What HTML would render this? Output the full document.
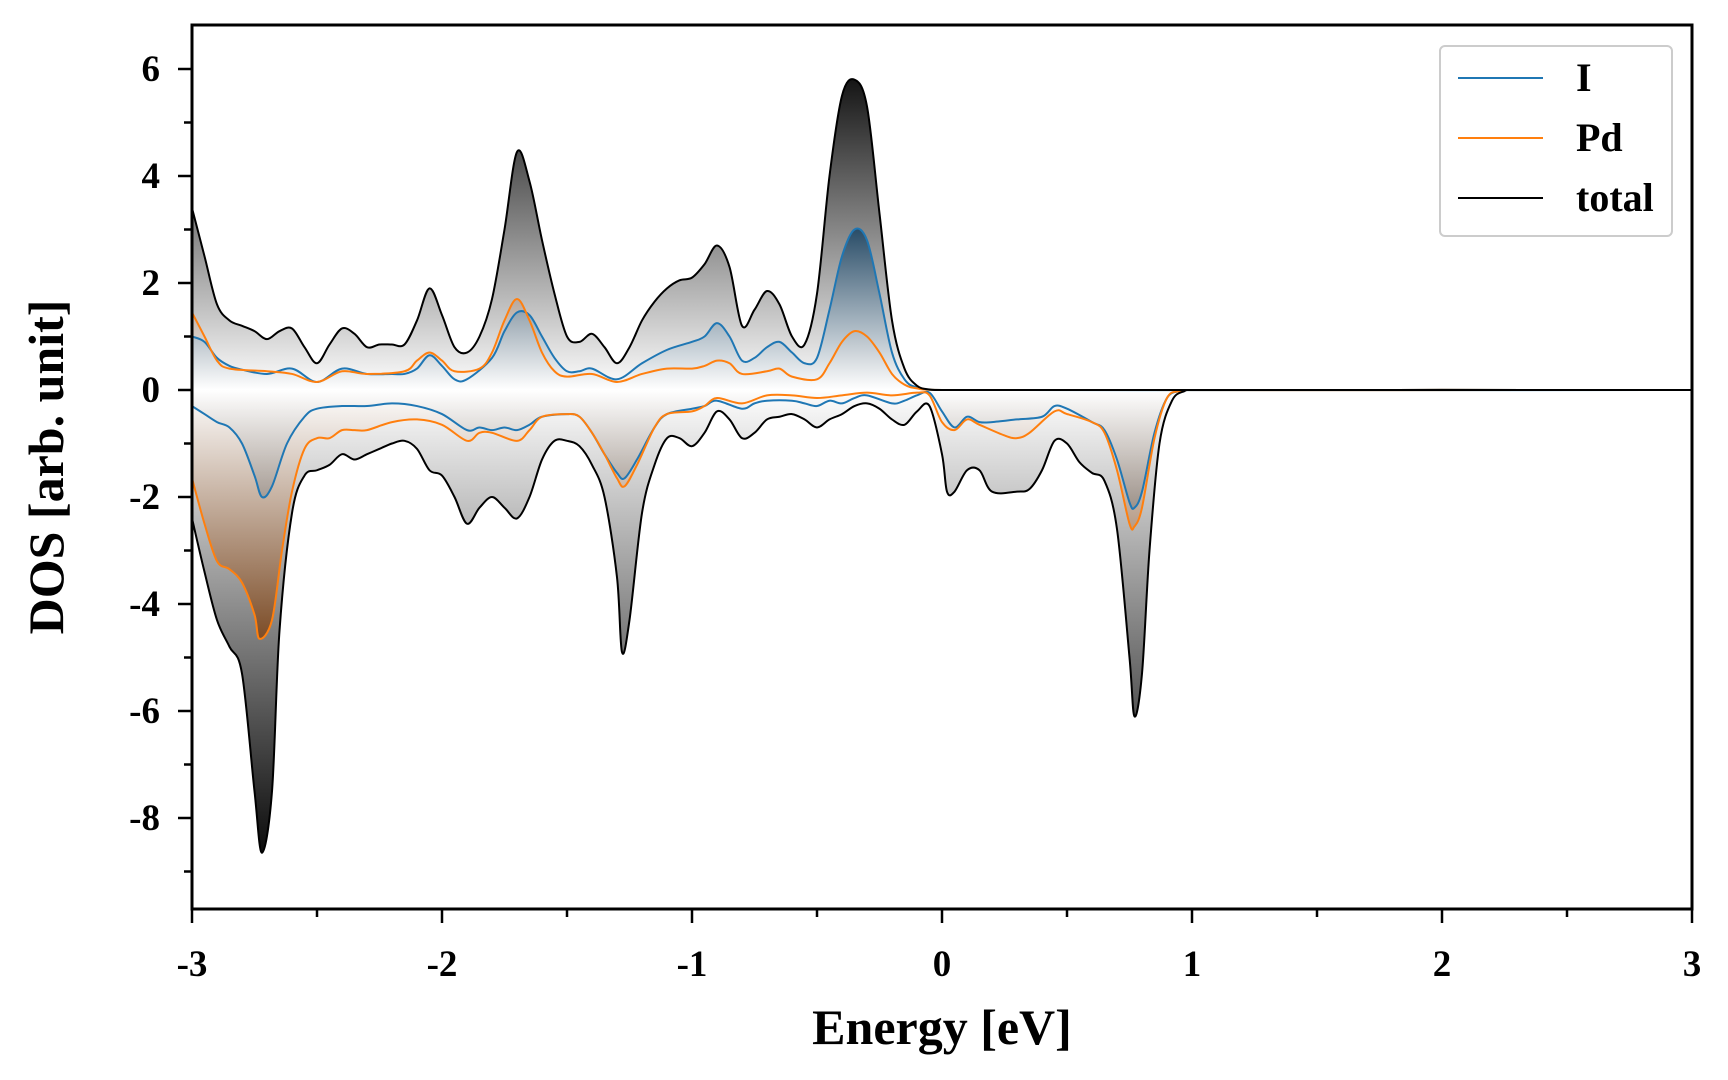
<!DOCTYPE html>
<html><head><meta charset="utf-8"><style>
html,body{margin:0;padding:0;background:#fff;}
svg{display:block;font-family:"Liberation Serif",serif;font-weight:bold;}
</style></head><body>
<svg id="chart" width="1728" height="1080" viewBox="0 0 1728 1080">
<defs id="defs"></defs>
<g id="plot"></g>
</svg>
<script>
// ---- data (Energy eV, DOS) ----
const totUpE=[-3,-2.95,-2.9,-2.85,-2.8,-2.75,-2.7,-2.65,-2.6,-2.55,-2.5,-2.45,-2.4,-2.35,-2.3,-2.25,-2.2,-2.15,-2.1,-2.05,-2,-1.95,-1.9,-1.85,-1.8,-1.75,-1.7,-1.65,-1.6,-1.55,-1.5,-1.45,-1.4,-1.35,-1.3,-1.25,-1.2,-1.15,-1.1,-1.05,-1,-0.95,-0.9,-0.85,-0.8,-0.75,-0.7,-0.65,-0.6,-0.55,-0.5,-0.45,-0.4,-0.35,-0.3,-0.25,-0.2,-0.15,-0.1,-0.05,0,3];
const totUpV=[3.4,2.5,1.6,1.3,1.2,1.1,0.95,1.1,1.15,0.8,0.5,0.85,1.15,1.05,0.8,0.85,0.85,0.85,1.3,1.9,1.4,0.8,0.7,1.0,1.7,3.0,4.45,3.9,2.8,1.8,1.0,0.9,1.05,0.8,0.5,0.8,1.3,1.65,1.9,2.05,2.1,2.35,2.7,2.3,1.2,1.5,1.85,1.6,1.0,0.85,1.8,4.0,5.5,5.8,5.3,3.3,1.3,0.4,0.08,0.01,0,0];
const totDnE=[-3,-2.95,-2.9,-2.85,-2.8,-2.75,-2.72,-2.68,-2.65,-2.6,-2.55,-2.5,-2.45,-2.4,-2.35,-2.3,-2.25,-2.2,-2.15,-2.1,-2.05,-2,-1.95,-1.9,-1.85,-1.8,-1.75,-1.7,-1.65,-1.6,-1.55,-1.5,-1.45,-1.4,-1.35,-1.3,-1.28,-1.25,-1.2,-1.15,-1.1,-1.05,-1,-0.95,-0.9,-0.85,-0.8,-0.75,-0.7,-0.65,-0.6,-0.55,-0.5,-0.45,-0.4,-0.35,-0.3,-0.25,-0.2,-0.15,-0.1,-0.05,0,0.02,0.05,0.1,0.15,0.2,0.3,0.35,0.4,0.45,0.5,0.55,0.6,0.65,0.7,0.75,0.77,0.8,0.83,0.87,0.92,0.97,1.0,3];
const totDnV=[-2.4,-3.4,-4.3,-4.8,-5.3,-7.5,-8.65,-7.5,-4.5,-2.3,-1.6,-1.5,-1.4,-1.2,-1.3,-1.2,-1.1,-1.0,-0.95,-1.1,-1.5,-1.6,-2.0,-2.5,-2.2,-2.0,-2.2,-2.4,-2.0,-1.3,-0.95,-0.95,-1.05,-1.4,-2.0,-3.5,-4.9,-4.3,-2.3,-1.4,-0.9,-0.9,-1.05,-0.8,-0.4,-0.55,-0.9,-0.8,-0.55,-0.5,-0.45,-0.55,-0.7,-0.55,-0.45,-0.3,-0.25,-0.35,-0.55,-0.65,-0.4,-0.3,-1.2,-1.9,-1.9,-1.5,-1.5,-1.9,-1.9,-1.85,-1.5,-0.95,-1.0,-1.35,-1.55,-1.7,-2.6,-5.0,-6.1,-5.3,-3.0,-1.0,-0.2,-0.02,0,0];
const iUpE=[-3,-2.95,-2.9,-2.85,-2.8,-2.7,-2.6,-2.5,-2.4,-2.3,-2.2,-2.15,-2.1,-2.05,-2,-1.95,-1.9,-1.8,-1.75,-1.7,-1.65,-1.6,-1.55,-1.5,-1.45,-1.4,-1.3,-1.2,-1.1,-1,-0.95,-0.9,-0.85,-0.8,-0.75,-0.7,-0.65,-0.6,-0.55,-0.5,-0.45,-0.4,-0.35,-0.3,-0.25,-0.2,-0.15,-0.1,0,3];
const iUpV=[1.0,0.9,0.6,0.45,0.38,0.3,0.4,0.15,0.4,0.3,0.3,0.3,0.4,0.65,0.45,0.2,0.2,0.6,1.1,1.45,1.4,1.0,0.6,0.35,0.35,0.4,0.2,0.5,0.75,0.9,1.0,1.25,1.0,0.55,0.6,0.8,0.9,0.7,0.5,0.6,1.5,2.5,3.0,2.8,1.8,0.7,0.2,0.05,0,0];
const iDnE=[-3,-2.95,-2.9,-2.85,-2.8,-2.75,-2.72,-2.68,-2.62,-2.55,-2.5,-2.4,-2.3,-2.2,-2.1,-2,-1.9,-1.85,-1.8,-1.75,-1.7,-1.65,-1.6,-1.5,-1.45,-1.4,-1.35,-1.3,-1.27,-1.22,-1.15,-1.1,-1,-0.95,-0.9,-0.8,-0.75,-0.7,-0.6,-0.55,-0.5,-0.45,-0.4,-0.35,-0.3,-0.2,-0.15,-0.1,-0.05,0,0.05,0.1,0.15,0.2,0.3,0.4,0.45,0.5,0.6,0.65,0.7,0.75,0.77,0.8,0.85,0.9,0.95,1.0,3];
const iDnV=[-0.3,-0.45,-0.6,-0.7,-1.0,-1.6,-2.0,-1.8,-1.0,-0.5,-0.35,-0.3,-0.3,-0.25,-0.3,-0.45,-0.75,-0.7,-0.75,-0.7,-0.75,-0.65,-0.5,-0.45,-0.5,-0.8,-1.2,-1.55,-1.65,-1.3,-0.7,-0.45,-0.35,-0.3,-0.2,-0.35,-0.25,-0.2,-0.2,-0.25,-0.3,-0.2,-0.25,-0.15,-0.1,-0.25,-0.2,-0.1,-0.05,-0.4,-0.7,-0.5,-0.6,-0.6,-0.55,-0.5,-0.3,-0.35,-0.6,-0.75,-1.3,-2.1,-2.2,-1.9,-0.8,-0.15,-0.02,0,0];
const pdUpE=[-3,-2.95,-2.9,-2.85,-2.7,-2.6,-2.5,-2.4,-2.3,-2.15,-2.1,-2.05,-2,-1.95,-1.85,-1.8,-1.75,-1.7,-1.65,-1.6,-1.55,-1.5,-1.4,-1.3,-1.2,-1.1,-1,-0.95,-0.9,-0.85,-0.8,-0.7,-0.65,-0.6,-0.5,-0.45,-0.4,-0.35,-0.3,-0.25,-0.2,-0.15,-0.1,0,3];
const pdUpV=[1.45,1.0,0.55,0.4,0.35,0.3,0.15,0.35,0.3,0.35,0.55,0.7,0.55,0.35,0.4,0.7,1.3,1.7,1.3,0.7,0.35,0.25,0.3,0.15,0.3,0.4,0.4,0.45,0.55,0.5,0.3,0.35,0.4,0.25,0.2,0.5,0.9,1.1,1.0,0.7,0.3,0.1,0.03,0,0];
const pdDnE=[-3,-2.95,-2.9,-2.85,-2.8,-2.75,-2.73,-2.68,-2.64,-2.6,-2.55,-2.5,-2.45,-2.4,-2.35,-2.3,-2.2,-2.1,-2,-1.9,-1.85,-1.8,-1.7,-1.65,-1.6,-1.5,-1.45,-1.4,-1.35,-1.3,-1.27,-1.22,-1.15,-1.1,-1,-0.95,-0.9,-0.8,-0.7,-0.6,-0.5,-0.4,-0.3,-0.2,-0.1,-0.05,0,0.05,0.1,0.15,0.25,0.3,0.35,0.45,0.5,0.6,0.65,0.7,0.75,0.77,0.8,0.85,0.9,0.95,1.0,3];
const pdDnV=[-1.65,-2.5,-3.2,-3.35,-3.6,-4.2,-4.65,-4.3,-3.0,-1.9,-1.1,-0.9,-0.9,-0.75,-0.75,-0.75,-0.6,-0.55,-0.65,-0.95,-0.8,-0.8,-0.95,-0.75,-0.5,-0.45,-0.5,-0.8,-1.2,-1.65,-1.8,-1.4,-0.7,-0.45,-0.4,-0.3,-0.15,-0.25,-0.1,-0.1,-0.15,-0.1,-0.05,-0.1,-0.05,-0.1,-0.6,-0.75,-0.55,-0.65,-0.85,-0.9,-0.8,-0.4,-0.45,-0.6,-0.8,-1.5,-2.5,-2.55,-2.2,-0.9,-0.15,-0.02,0,0];
const xTicks=[-3,-2,-1,0,1,2,3];
const yTicks=[-8,-6,-4,-2,0,2,4,6];
const legendLabels=["I","Pd","total"];

const NS="http://www.w3.org/2000/svg";
const L=192,R=1692,T=25,B=909;
const X=e=>L+(e+3)*(R-L)/6;
const Y=v=>390-v*53.5;
const plot=document.getElementById('plot'),defs=document.getElementById('defs');
function mk(tag,attrs,parent){const el=document.createElementNS(NS,tag);for(const k in attrs)el.setAttribute(k,attrs[k]);(parent||plot).appendChild(el);return el;}
function curve(E,V){
  const p=E.map((e,i)=>[X(e),Y(V[i])]);
  let d=`M${p[0][0]},${p[0][1]}`;
  for(let i=0;i<p.length-1;i++){
    const p0=p[Math.max(0,i-1)],p1=p[i],p2=p[i+1],p3=p[Math.min(p.length-1,i+2)];
    let c1x=p1[0]+(p2[0]-p0[0])/6,c1y=p1[1]+(p2[1]-p0[1])/6,c2x=p2[0]-(p3[0]-p1[0])/6,c2y=p2[1]-(p3[1]-p1[1])/6;
    c1x=Math.min(Math.max(c1x,p1[0]),p2[0]);c2x=Math.min(Math.max(c2x,p1[0]),p2[0]);
    d+=` C${c1x},${c1y} ${c2x},${c2y} ${p2[0]},${p2[1]}`;
  }
  return d;
}
function area(E,V){return curve(E,V)+` L${X(E[E.length-1])},${Y(0)} L${X(E[0])},${Y(0)} Z`;}
function grad(id,top,bot,cTop,cBot){
  const g=mk('linearGradient',{id:id,gradientUnits:'userSpaceOnUse',x1:0,x2:0,y1:Y(top),y2:Y(bot)},defs);
  const z=(Y(0)-Y(top))/(Y(bot)-Y(top));
  mk('stop',{offset:0,'stop-color':cTop},g);
  mk('stop',{offset:z,'stop-color':'#ffffff'},g);
  mk('stop',{offset:1,'stop-color':cBot},g);
}
grad('gTot',5.9,-8.7,'#111','#0a0a0a');
grad('gI',3.0,-3.0,'#0b3a5e','#4a4a4a');
grad('gPd',3.0,-4.7,'#7a4a2a','#7a3a08');
const cp=mk('clipPath',{id:'clip'},defs);
mk('rect',{x:L,y:T,width:R-L,height:B-T},cp);
const g=mk('g',{'clip-path':'url(#clip)'});
let el;
el=mk('path',{d:area(totUpE,totUpV),fill:'url(#gTot)'},g);
el=mk('path',{d:area(totDnE,totDnV),fill:'url(#gTot)'},g);
el=mk('path',{d:area(pdUpE,pdUpV),fill:'url(#gPd)','fill-opacity':0.55},g);
el=mk('path',{d:area(pdDnE,pdDnV),fill:'url(#gPd)','fill-opacity':0.75},g);
el=mk('path',{d:area(iUpE,iUpV),fill:'url(#gI)','fill-opacity':0.75},g);
el=mk('path',{d:area(iDnE,iDnV),fill:'url(#gI)','fill-opacity':0.5},g);
const lines=[[iUpE,iUpV,'#1f77b4','i-up-line'],[iDnE,iDnV,'#1f77b4','i-down-line'],[pdUpE,pdUpV,'#ff7f0e','pd-up-line'],[pdDnE,pdDnV,'#ff7f0e','pd-down-line'],[totUpE,totUpV,'#000','total-up-line'],[totDnE,totDnV,'#000','total-down-line']];
lines.forEach(s=>{const p=mk('path',{d:curve(s[0],s[1]),fill:'none',stroke:s[2],'stroke-width':2},g);

});
el=mk('rect',{x:L,y:T,width:R-L,height:B-T,fill:'none',stroke:'#000','stroke-width':3});

for(let v=-3;v<=3.001;v+=0.5){const major=Math.abs(v-Math.round(v))<1e-6;
 mk('line',{x1:X(v),x2:X(v),y1:B,y2:B+(major?14:8),stroke:'#000','stroke-width':2.5});}
xTicks.forEach(v=>{const t=mk('text',{x:X(v),y:B+67,'text-anchor':'middle','font-size':37});t.textContent=v;
});
for(let v=-9;v<=6;v+=1){mk('line',{x1:L,x2:L-((v%2===0)?14:8),y1:Y(v),y2:Y(v),stroke:'#000','stroke-width':2.5});}
yTicks.forEach(v=>{const t=mk('text',{x:L-32,y:Y(v)+12,'text-anchor':'end','font-size':37});t.textContent=v;
});
el=mk('text',{x:(L+R)/2,y:1044,'text-anchor':'middle','font-size':50});el.textContent='Energy [eV]';

el=mk('text',{x:0,y:0,'text-anchor':'middle','font-size':50,transform:`translate(63,${(T+B)/2}) rotate(-90)`});el.textContent='DOS [arb. unit]';

const lg=mk('g',{});
mk('rect',{x:1440,y:46,width:232,height:190,rx:5,fill:'#fff','fill-opacity':0.8,stroke:'#ccc','stroke-width':2},lg);
const lc=['#1f77b4','#ff7f0e','#000'];
legendLabels.forEach((n,i)=>{const yy=78+i*60;
 const e=mk('g',{},lg);
 mk('line',{x1:1458,x2:1543,y1:yy,y2:yy,stroke:lc[i],'stroke-width':2},e);
 const t=mk('text',{x:1576,y:yy+13,'font-size':40},e);t.textContent=n;});
</script>
</body></html>
